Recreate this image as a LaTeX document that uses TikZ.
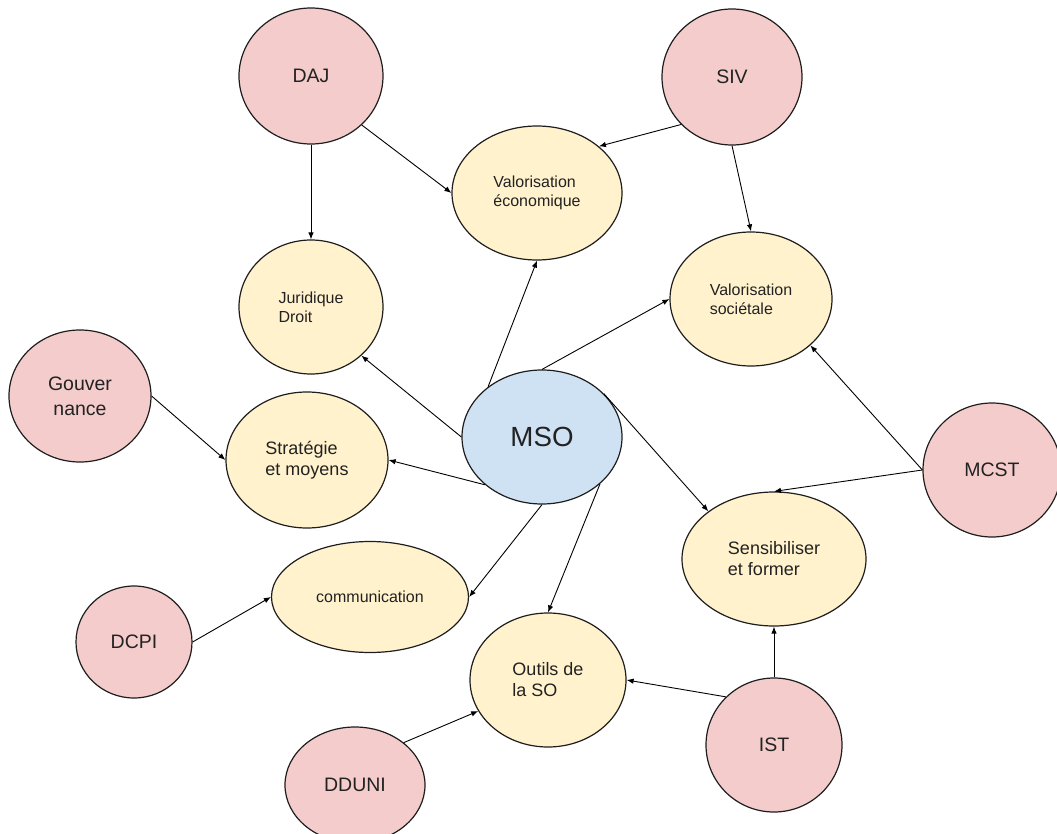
\documentclass[tikz,border=0pt]{standalone}
\usepackage{fontspec}
\setmainfont{Liberation Sans}
\usetikzlibrary{shapes.geometric,arrows.meta}
\definecolor{pinkfill}{HTML}{F4CCCC}
\definecolor{yellowfill}{HTML}{FFF2CC}
\definecolor{bluefill}{HTML}{CFE2F3}
\definecolor{edgecol}{HTML}{1E1E1E}
\definecolor{txtcol}{HTML}{222222}
\begin{document}
\begin{tikzpicture}[x=1pt,y=-1pt,
  base/.style={ellipse, draw=edgecol, line width=1.2pt, inner sep=0pt, text=txtcol},
  actor/.style={base, fill=pinkfill, font=\fontsize{19.5}{25}\selectfont, align=center},
  topic/.style={base, fill=yellowfill, align=left},
  smalltxt/.style={font=\fontsize{16}{19}\selectfont},
  bigtxt/.style={font=\fontsize{18}{21}\selectfont},
  core/.style={base, fill=bluefill, font=\fontsize{27.7}{32}\selectfont},
  link/.style={draw=black, line width=0.9pt, -{Latex[length=7pt,width=5.5pt]}},
]
\useasboundingbox (0,0) rectangle (1057,834);

% red source nodes
\node[actor, minimum width=144, minimum height=136] (daj)  at (311,76)  {DAJ};
\node[actor, minimum width=140, minimum height=136] (siv)  at (732,77)  {SIV};
\node[actor, minimum width=142, minimum height=132] (gouv) at (80,396)  {Gouver\\nance};
\node[actor, minimum width=138, minimum height=134] (mcst) at (992,470) {MCST};
\node[actor, minimum width=116, minimum height=112] (dcpi) at (134,642) {DCPI};
\node[actor, minimum width=136, minimum height=134] (ist)  at (774,745) {IST};
\node[actor, minimum width=140, minimum height=116] (dduni) at (355,785) {DDUNI};

% yellow topic nodes
\node[topic, smalltxt, minimum width=170, minimum height=134] (valeco) at (537,193) {Valorisation\\économique};
\node[topic, smalltxt, minimum width=144, minimum height=134] (jur)    at (311,307) {Juridique\\Droit};
\node[topic, smalltxt, minimum width=162, minimum height=134] (valsoc) at (751,299) {Valorisation\\sociétale};
\node[topic, bigtxt,   minimum width=162, minimum height=136] (strat)  at (307,460) {Stratégie\\et moyens};
\node[topic, smalltxt, minimum width=197, minimum height=111] (comm)   at (370,597) {communication};
\node[topic, bigtxt,   minimum width=184, minimum height=134] (sens)   at (774,559) {Sensibiliser\\et former};
\node[topic, bigtxt,   minimum width=156, minimum height=134] (outils) at (548,680) {Outils de\\la SO};

% centre
\node[core, minimum width=160, minimum height=134] (mso) at (542,437) {MSO};

% connectors
\draw[link] (daj.south) -- (jur.north);
\draw[link] (daj.-44) -- (valeco.west);
\draw[link] (siv.-137) -- (valeco.37);
\draw[link] (siv.south) -- (valsoc.north);
\draw[link] (mso.137) -- (valeco.south);
\draw[link] (mso.north) -- (valsoc.west);
\draw[link] (mso.west) -- (jur.-44);
\draw[link] (mso.220) -- (strat.east);
\draw[link] (mso.south) -- (comm.east);
\draw[link] (mso.-39) -- (outils.north);
\draw[link] (mso.35) -- (sens.144);
\draw[link] (mcst.west) -- (valsoc.-38);
\draw[link] (mcst.west) -- (sens.north);
\draw[link] (ist.north) -- (sens.south);
\draw[link] (ist.135) -- (outils.east);
\draw[link] (dduni.41) -- (outils.-156);
\draw[link] (gouv.east) -- (strat.west);
\draw[link] (dcpi.east) -- (comm.west);
\end{tikzpicture}
\end{document}
